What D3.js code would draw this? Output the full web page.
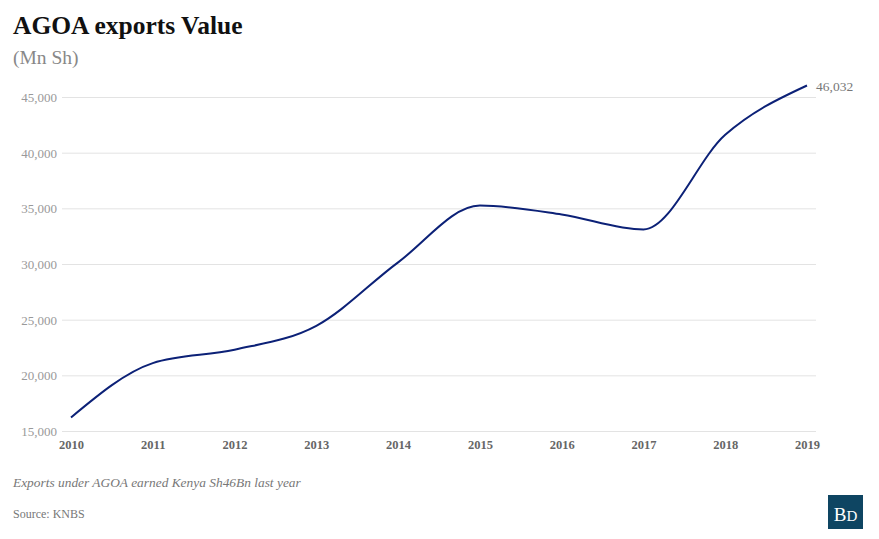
<!DOCTYPE html>
<html>
<head>
<meta charset="utf-8">
<script src="https://cdn.jsdelivr.net/npm/d3@7"></script>
<style>
  html, body { margin: 0; padding: 0; background: #fff; }
  svg { display: block; }
  text { font-family: Georgia, "Liberation Serif", "DejaVu Serif", serif; }
</style>
</head>
<body>
<svg id="chart" width="879" height="539"></svg>
<script>
const years = [2010, 2011, 2012, 2013, 2014, 2015, 2016, 2017, 2018, 2019];
const values = [16220, 21100, 22300, 24450, 30150, 35250, 34450, 33100, 41600, 46032];
const yTicks = [15000, 20000, 25000, 30000, 35000, 40000, 45000];
const titleText = "AGOA exports Value";
const subtitleText = "(Mn Sh)";
const noteText = "Exports under AGOA earned Kenya Sh46Bn last year";
const sourceText = "Source: KNBS";

const svg = d3.select("#chart");
const margin = { left: 62, right: 816, top: 97, bottom: 431 };

const x = d3.scaleLinear().domain([2010, 2019]).range([71, 807]);
const y = d3.scaleLinear().domain([15000, 45000]).range([margin.bottom, margin.top]);

// title
svg.append("text").attr("x", 13).attr("y", 34)
  .attr("font-size", 25.5).attr("font-weight", "bold").attr("fill", "#111")
  .text(titleText);
svg.append("text").attr("x", 13).attr("y", 64)
  .attr("font-size", 19.5).attr("fill", "#888")
  .text(subtitleText);

// grid + y axis
const yAxis = d3.axisLeft(y).tickValues(yTicks)
  .tickFormat(d3.format(",")).tickSize(-(margin.right - margin.left)).tickPadding(5);
const gy = svg.append("g").attr("transform", `translate(${margin.left},0)`).call(yAxis);
gy.select(".domain").remove();
gy.selectAll(".tick line").attr("stroke", "#e3e3e3").attr("stroke-width", 1);
gy.selectAll(".tick text").attr("fill", "#999").attr("font-size", 13)
  .attr("font-family", "Georgia, 'Liberation Serif', serif").attr("dy", "0.35em");

// x axis
const xAxis = d3.axisBottom(x).tickValues(years).tickFormat(d3.format("d")).tickSize(0).tickPadding(9);
const gx = svg.append("g").attr("transform", `translate(0,${margin.bottom})`).call(xAxis);
gx.select(".domain").remove();
gx.selectAll(".tick text").attr("fill", "#666").attr("font-size", 12.5).attr("font-weight", "bold")
  .attr("font-family", "Georgia, 'Liberation Serif', serif");

// line
const data = years.map((yr, i) => ({ yr, v: values[i] }));
const line = d3.line().x(d => x(d.yr)).y(d => y(d.v)).curve(d3.curveMonotoneX);
svg.append("path").datum(data).attr("d", line)
  .attr("fill", "none").attr("stroke", "#0c2177").attr("stroke-width", 2);

// end label
const last = data[data.length - 1];
svg.append("text").attr("x", x(last.yr) + 9).attr("y", y(last.v) + 5)
  .attr("font-size", 13.5).attr("fill", "#777")
  .text(d3.format(",")(last.v));

// notes
svg.append("text").attr("x", 13).attr("y", 487)
  .attr("font-size", 13.4).attr("font-style", "italic").attr("fill", "#777")
  .text(noteText);
svg.append("text").attr("x", 13).attr("y", 518)
  .attr("font-size", 12).attr("fill", "#777")
  .text(sourceText);

// logo
svg.append("rect").attr("x", 828).attr("y", 495).attr("width", 35).attr("height", 34)
  .attr("fill", "#0e4562");
const logo = svg.append("text").attr("x", 845.5).attr("y", 521).attr("text-anchor", "middle")
  .attr("fill", "#fff");
logo.append("tspan").attr("font-size", 19).text("B");
logo.append("tspan").attr("font-size", 15).text("D");
</script>
</body>
</html>
